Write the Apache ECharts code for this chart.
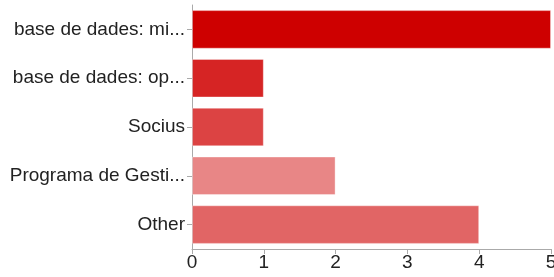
<!DOCTYPE html>
<html><head><meta charset="utf-8">
<script src="https://cdn.jsdelivr.net/npm/echarts@6/dist/echarts.min.js"></script>
<style>html,body{margin:0;padding:0;background:#fff;overflow:hidden}#c{width:554px;height:277px}</style>
</head><body><div id="c"></div>
<script>
var categories = ["base de dades: mi...", "base de dades: op...", "Socius", "Programa de Gesti...", "Other"];
var values = [5, 1, 1, 2, 4];
var barColors = ["#CE0000", "#D62424", "#DC4343", "#E88686", "#E16565"];
var xTicks = [0, 1, 2, 3, 4, 5];

var chart = echarts.init(document.getElementById('c'), null, {renderer: 'canvas', width: 554, height: 277});
var font = 'Liberation Sans, Arial, Helvetica, sans-serif';
chart.setOption({
  animation: false,
  grid: {left: 192, right: 3, top: 5, bottom: 28, containLabel: false, outerBoundsMode: 'none'},
  xAxis: {
    type: 'value', min: xTicks[0], max: xTicks[xTicks.length - 1], interval: 1,
    axisLine: {show: true, lineStyle: {color: '#aaaaaa', width: 1}},
    axisTick: {show: true, length: 5, lineStyle: {color: '#aaaaaa'}},
    splitLine: {show: false},
    axisLabel: {color: '#222', fontSize: 19, fontFamily: font, margin: 4, hideOverlap: false}
  },
  yAxis: {
    type: 'category', data: categories, inverse: true,
    axisLine: {show: true, lineStyle: {color: '#aaaaaa', width: 1}},
    axisTick: {show: true, length: 5, alignWithLabel: true, lineStyle: {color: '#aaaaaa'}},
    axisLabel: {color: '#222', fontSize: 19, fontFamily: font, margin: 7}
  },
  series: [{
    type: 'bar',
    data: values.map(function (v, i) {
      return {value: v, itemStyle: {color: barColors[i], borderColor: 'rgba(255,255,255,0.35)', borderWidth: 1}};
    }),
    barCategoryGap: '21%'
  }]
});
</script></body></html>
